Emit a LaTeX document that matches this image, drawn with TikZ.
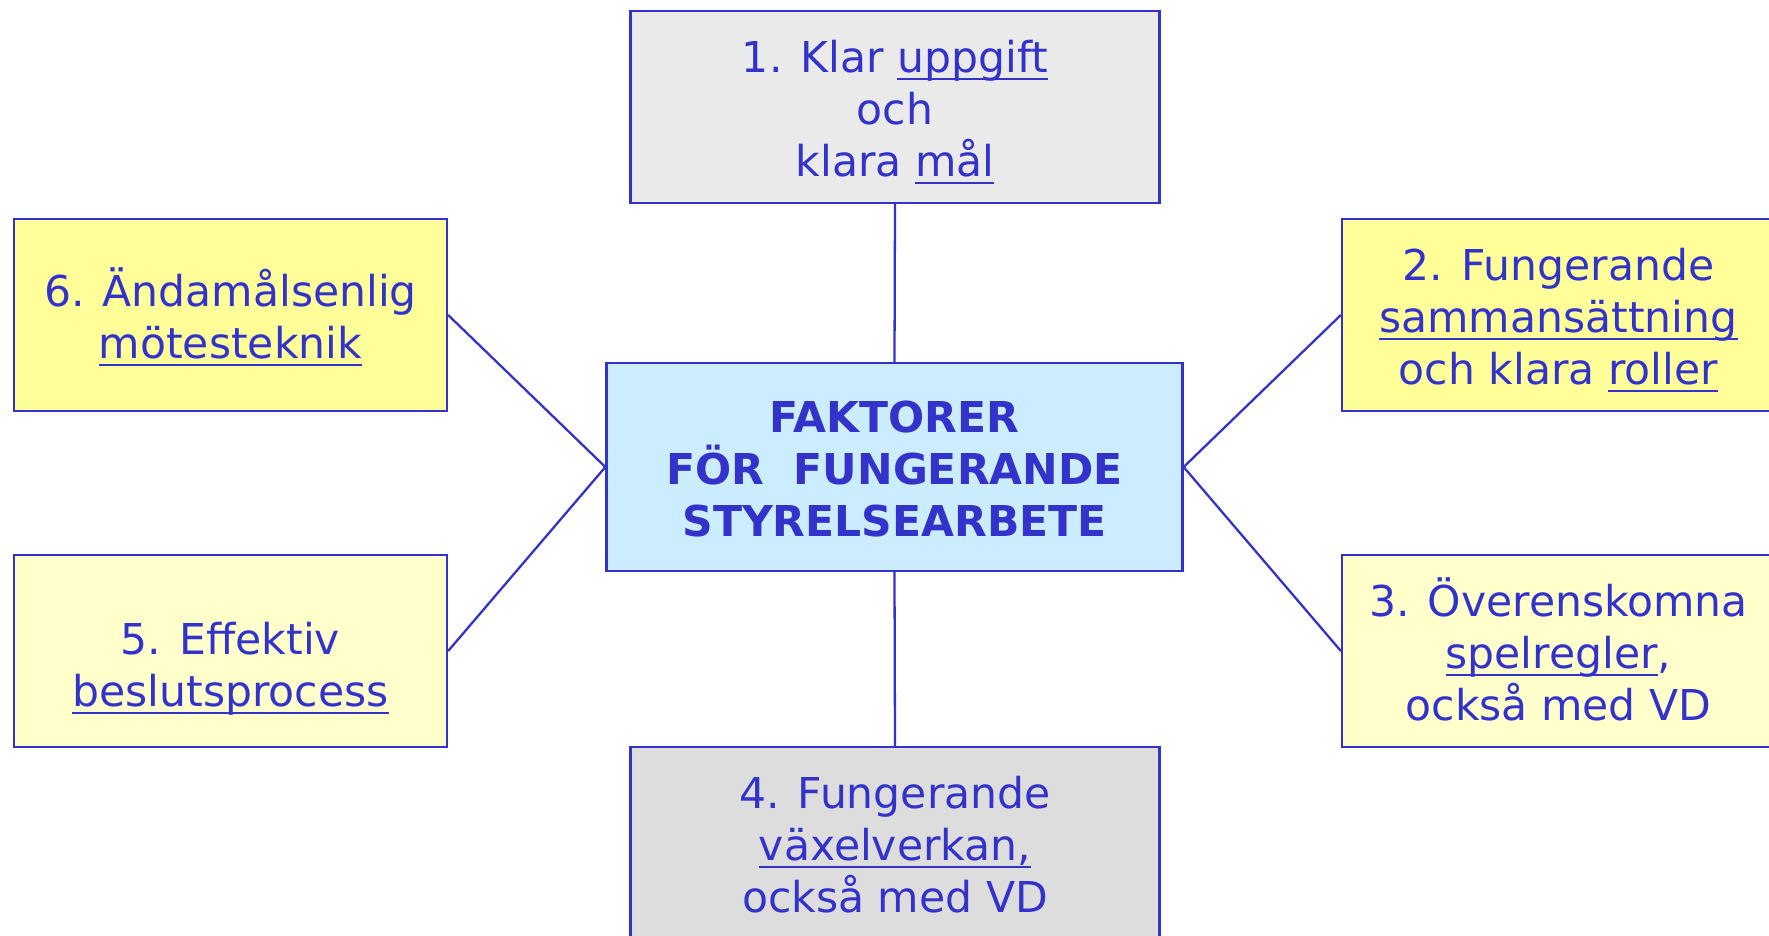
\documentclass[tikz,border=0pt]{standalone}
\usepackage{fontspec}
\setmainfont{DejaVu Sans}
\newcommand{\uln}[1]{\setbox0\hbox{#1}\rlap{\smash{\rule[-2.1pt]{\wd0}{0.6pt}}}\box0}
\newcommand{\linestrut}{\rule[-1.8pt]{0pt}{13.8pt}}
\newcommand{\factorlines}[1]{\linestrut#1\linestrut}
\definecolor{inkblue}{HTML}{3333CC}
\definecolor{boxgrey}{HTML}{EAEAEA}
\definecolor{boxgreydark}{HTML}{DDDDDD}
\definecolor{boxsky}{HTML}{CCECFF}
\definecolor{boxyellow}{HTML}{FFFF99}
\definecolor{boxcream}{HTML}{FFFFCC}
\tikzset{
  factortext/.style={text=inkblue, align=center, inner sep=0pt, font=\fontsize{12.1}{14.8}\selectfont},
  factor/.style={factortext, draw=inkblue, line width=0.65pt, minimum width=4.33cm, minimum height=1.92cm},
  widefactor/.style={factor, minimum width=5.29cm},
  spoke/.style={draw=inkblue, line width=0.65pt}
}

\begin{document}
\begin{tikzpicture}
			%%%%% START %%%%%
			\path[use as bounding box, clip] (0, 0) rectangle (17.69, -9.35);
			
			\node[factor, fill=boxsky, minimum width=5.76cm, minimum height=2.08cm, font=\fontsize{12.1}{14.8}\selectfont\bfseries] (core) at (8.945, -4.67) {\factorlines{FAKTORER\\FÖR~ FUNGERANDE\\STYRELSEARBETE}};
			
			\node[widefactor, fill=boxgrey] (goal) at (8.95, -1.07) {\factorlines{1. Klar \uln{uppgift}\\och\\klara \uln{mål}}};
			\node[factor, fill=boxyellow] (roles) at (15.585, -3.15) {\factorlines{2. Fungerande\\\uln{sammansättning}\\och klara \uln{roller}}};
			\node[factor, fill=boxcream] (rules) at (15.585, -6.51) {\factorlines{3. Överenskomna\\\uln{spelregler},\\också med VD}};
			\node[widefactor, fill=boxgreydark] (interplay) at (8.95, -8.43) {\factorlines{4. Fungerande\\\uln{växelverkan,}\\också med VD}};
			\node[factor, fill=boxcream] (decide) at (2.305, -6.51) {};
			\node[factortext] (decidetext) at (2.305, -6.64) {\factorlines{5. Effektiv\\\uln{beslutsprocess}}};
			\node[factor, fill=boxyellow] (meeting) at (2.305, -3.15) {\factorlines{6. Ändamålsenlig\\\uln{mötesteknik}}};
			
			\draw[spoke] (goal.south) -- (core.north);
			\draw[spoke] (core.south) -- (interplay.north);
			\draw[spoke] (meeting.east) -- (core.west);
			\draw[spoke] (decide.east) -- (core.west);
			\draw[spoke] (roles.west) -- (core.east);
			\draw[spoke] (rules.west) -- (core.east);
			
			%%%%% END %%%%%
\end{tikzpicture}
\end{document}
